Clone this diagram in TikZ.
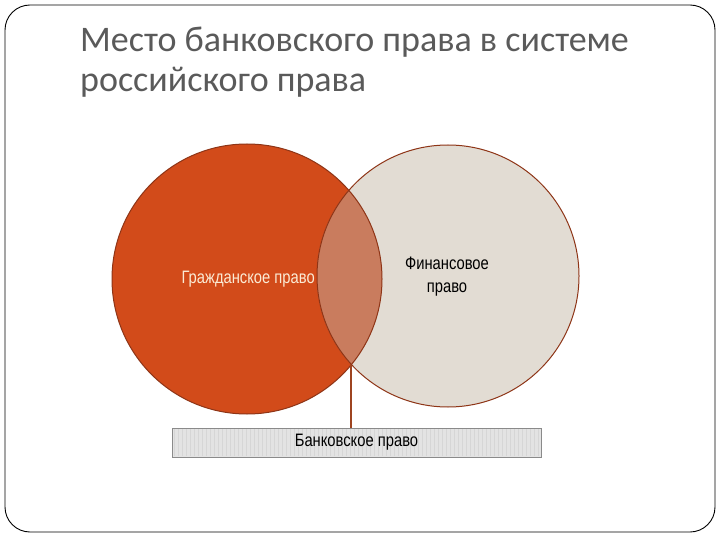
\documentclass[tikz,border=0pt]{standalone}
\usepackage{fontspec}
\setmainfont{Carlito}
\newfontfamily\narrowfont[FakeStretch=0.82]{Liberation Sans}
\usetikzlibrary{intersections}
\definecolor{titlegray}{HTML}{5A5A5A}
\definecolor{redfill}{HTML}{D24B1A}
\definecolor{redline}{HTML}{8E3517}
\definecolor{connbrown}{HTML}{9E4420}
\definecolor{beige}{HTML}{E2DCD3}
\definecolor{overlap}{HTML}{C97C5E}
\definecolor{boxfill}{HTML}{E3E3E3}
\definecolor{boxstripe}{HTML}{D6D6D6}
\definecolor{boxline}{HTML}{8A8A8A}
\definecolor{cream}{HTML}{FBEBD5}
\tikzset{
  frame/.style={draw=black, line width=0.9pt, rounded corners=25pt},
  circ/.style={draw=redline, line width=1pt},
  titletext/.style={anchor=base west, inner sep=0pt, text=titlegray, font=\fontsize{36}{42}\selectfont},
  lbl/.style={font=\narrowfont\fontsize{18}{23}\selectfont, inner sep=0pt, align=center},
  bankbox/.style={draw=boxline, line width=0.6pt, minimum width=369pt, minimum height=29pt, inner sep=0pt, font=\narrowfont\fontsize{18}{22}\selectfont},
  conn/.style={draw=connbrown, line width=2pt}
}
\begin{document}
\begin{tikzpicture}[x=1pt,y=-1pt]
\useasboundingbox (0,0) rectangle (720,540);
\fill[white] (0,0) rectangle (720,540);
\draw[frame] (5,5) rectangle (715,532);
% title
\node[titletext] (title1) at (80,52) {Место банковского права в системе};
\node[titletext] (title2) at (80,92) {российского права};
% circles
\path[name path=c1] (247,279) circle[radius=135];
\path[name path=c2] (448,276) circle[radius=131];
\fill[redfill] (247,279) circle[radius=135];
\fill[beige] (448,276) circle[radius=131];
\begin{scope}
  \clip (247,279) circle[radius=135];
  \fill[overlap] (448,276) circle[radius=131];
\end{scope}
\draw[circ] (247,279) circle[radius=135];
\draw[circ] (448,276) circle[radius=131];
\path[name intersections={of=c1 and c2, by={ia,ib}}];
% labels
\node[lbl, text=cream, anchor=east] (civ) at (315,279) {Гражданское право};
\node[lbl, text=black] (fin) at (447,277) {Финансовое\\право};
% bank box
\fill[boxfill] (172,428) rectangle (541,457);
\foreach \i in {0,...,91} {
  \draw[boxstripe, line width=0.8pt] ({174+4*\i},429) -- ({174+4*\i},456);
}
\node[bankbox] (bank) at (356.5,442.5) {Банковское право};
\draw[conn] (ia) -- (ia |- bank.north);
\end{tikzpicture}
\end{document}
